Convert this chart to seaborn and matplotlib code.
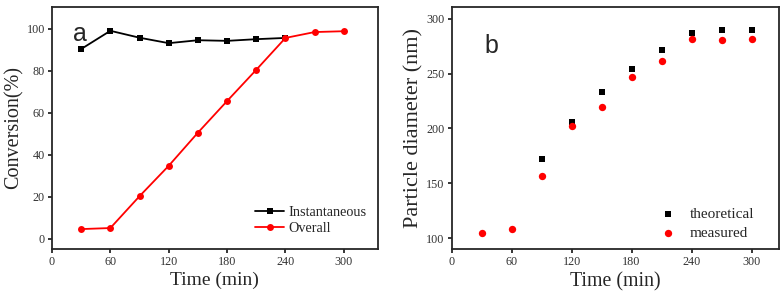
import matplotlib
import matplotlib.pyplot as plt
import seaborn as sns

matplotlib.use("Agg")

# panel a: conversion
time_inst = [30, 60, 90, 120, 150, 180, 210, 240]
instantaneous = [90.4, 99.1, 95.8, 93.2, 94.6, 94.3, 95.1, 95.7]
time_overall = [30, 60, 90, 120, 150, 180, 210, 240, 270, 300]
overall = [4.5, 5.0, 20.2, 34.7, 50.5, 65.6, 80.5, 95.7, 98.5, 98.9]

# panel b: particle diameter
time_theo = [90, 120, 150, 180, 210, 240, 270, 300]
theoretical = [172, 206, 233, 254, 272, 287, 290, 290]
time_meas = [30, 60, 90, 120, 150, 180, 210, 240, 270, 300]
measured = [105, 108, 157, 202, 220, 247, 262, 282, 281, 282]

x_ticks = [0, 60, 120, 180, 240, 300]

sns.set_style("ticks")
plt.rcParams["font.family"] = ["Liberation Serif", "DejaVu Serif"]
plt.rcParams["axes.linewidth"] = 1.3

fig = plt.figure(figsize=(7.84, 3.0), dpi=100)
ax1 = fig.add_axes([0.0663, 0.17, 0.4157, 0.807])
ax2 = fig.add_axes([0.576, 0.17, 0.417, 0.807])

sns.lineplot(x=time_inst, y=instantaneous, ax=ax1, color="black", marker="s",
             markersize=4.5, markeredgewidth=0, linewidth=1.3, label="Instantaneous")
sns.lineplot(x=time_overall, y=overall, ax=ax1, color="red", marker="o",
             markersize=5, markeredgewidth=0, linewidth=1.3, label="Overall")
ax1.set_xlim(0, 335)
ax1.set_ylim(-5, 110.5)
ax1.set_xticks(x_ticks)
ax1.set_yticks([0, 20, 40, 60, 80, 100])
ax1.set_xlabel("Time (min)", fontsize=14, labelpad=3)
ax1.set_ylabel("Conversion(%)", fontsize=14.5, labelpad=2)
ax1.text(0.086, 0.89, "a", transform=ax1.transAxes, fontsize=18,
         family="Liberation Sans", va="center", ha="center")
ax1.legend(loc="lower right", frameon=False, fontsize=10.3, handlelength=2.0,
           handletextpad=0.3, borderaxespad=0.4, labelspacing=0.25,
           bbox_to_anchor=(1.0, 0.01))

sns.scatterplot(x=time_theo, y=theoretical, ax=ax2, color="black", marker="s",
                s=22, linewidth=0, label="theoretical")
sns.scatterplot(x=time_meas, y=measured, ax=ax2, color="red", marker="o",
                s=28, linewidth=0, label="measured")
ax2.set_xlim(0, 327)
ax2.set_ylim(90, 311)
ax2.set_xticks(x_ticks)
ax2.set_yticks([100, 150, 200, 250, 300])
ax2.set_xlabel("Time (min)", fontsize=14.3, labelpad=3)
ax2.set_ylabel("Particle diameter (nm)", fontsize=16, labelpad=2)
ax2.text(0.123, 0.84, "b", transform=ax2.transAxes, fontsize=18,
         family="Liberation Sans", va="center", ha="center")
ax2.legend(loc="lower right", frameon=False, fontsize=11, handletextpad=0.4,
           borderaxespad=0.4, labelspacing=0.35, bbox_to_anchor=(0.962, -0.012))

for ax in (ax1, ax2):
    for side in ("top", "right"):
        ax.spines[side].set_visible(True)
    ax.tick_params(direction="out", length=3, width=1.1, labelsize=8.7, pad=2,
                   colors="black", labelcolor="#333333")

fig.savefig("out.png", dpi=100)
